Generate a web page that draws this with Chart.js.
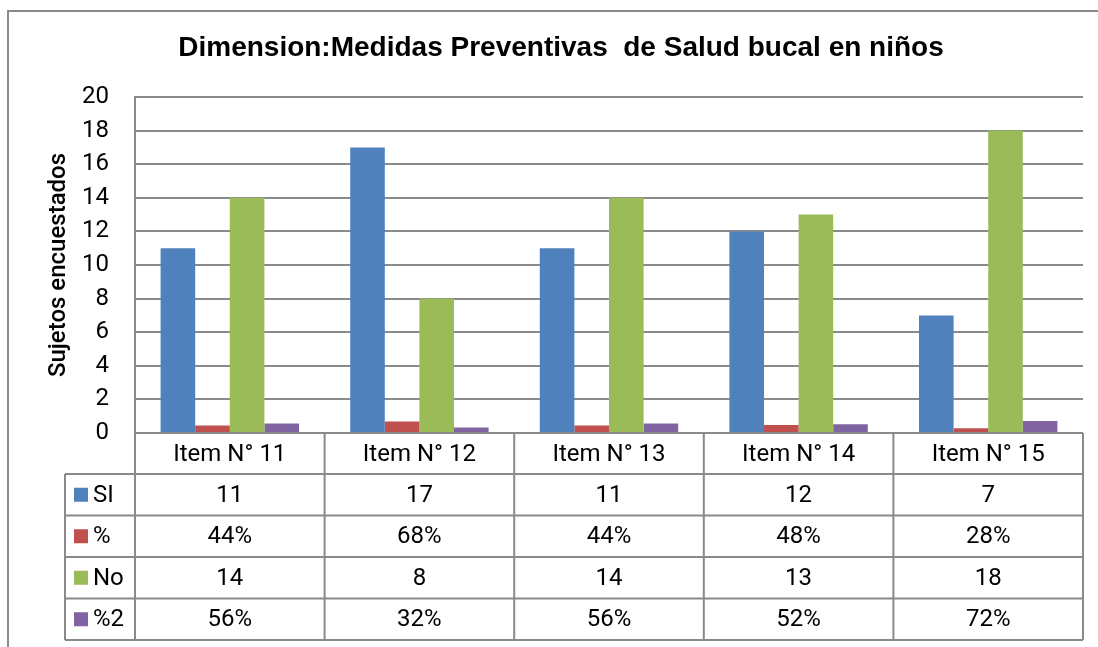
<!DOCTYPE html>
<html>
<head>
<meta charset="utf-8">
<script src="https://cdn.jsdelivr.net/npm/chart.js@4"></script>
<style>
  html, body { margin: 0; padding: 0; background: #fff; }
  #wrap { width: 1098px; height: 647px; position: relative; }
</style>
</head>
<body>
<div id="wrap"><canvas id="grafico"></canvas></div>
<script>
// datos
const items = ['Item N° 11', 'Item N° 12', 'Item N° 13', 'Item N° 14', 'Item N° 15'];
const si = [11, 17, 11, 12, 7];
const pctSi = [0.44, 0.68, 0.44, 0.48, 0.28];
const no = [14, 8, 14, 13, 18];
const pctNo = [0.56, 0.32, 0.56, 0.52, 0.72];
const yTicks = [0, 2, 4, 6, 8, 10, 12, 14, 16, 18, 20];

const colores = ['#4f81bd', '#c0504d', '#9bbb59', '#8064a2'];
const gris = '#8a8a8a';
const fuente = 'Roboto, "Open Sans", sans-serif';

function pct(v) { return Math.round(v * 100) + '%'; }

// tabla de datos debajo del grafico (como en Excel)
const tablaDatos = {
    id: 'tablaDatos',
    afterDraw(chart) {
        const ctx = chart.ctx;
        const area = chart.chartArea;
        const x = chart.scales.x;
        const n = items.length;
        const ancho = (area.right - area.left) / n;
        const filas = [
            { nombre: 'SI', valores: si.map(String) },
            { nombre: '%', valores: pctSi.map(pct) },
            { nombre: 'No', valores: no.map(String) },
            { nombre: '%2', valores: pctNo.map(pct) }
        ];
        const top = area.bottom;
        const altoCab = 41;
        const altoFila = 41.5;
        const izq = 65;
        const fin = top + altoCab + altoFila * filas.length;

        ctx.save();
        ctx.strokeStyle = gris;
        ctx.lineWidth = 2;
        ctx.beginPath();
        // lineas horizontales
        ctx.moveTo(area.left, top); ctx.lineTo(area.right, top);
        for (let r = 0; r <= filas.length; r++) {
            const yy = top + altoCab + r * altoFila;
            ctx.moveTo(izq, yy); ctx.lineTo(area.right, yy);
        }
        // lineas verticales
        ctx.moveTo(izq, top + altoCab); ctx.lineTo(izq, fin);
        for (let c = 0; c <= n; c++) {
            const xx = area.left + c * ancho;
            ctx.moveTo(xx, top); ctx.lineTo(xx, fin);
        }
        ctx.stroke();

        ctx.fillStyle = '#000';
        ctx.font = '24px ' + fuente;
        ctx.textAlign = 'center';
        ctx.textBaseline = 'middle';
        items.forEach((it, i) => {
            ctx.fillText(it, x.getPixelForValue(i), top + altoCab / 2 + 1);
        });
        filas.forEach((f, r) => {
            const yy = top + altoCab + r * altoFila + altoFila / 2 + 1;
            f.valores.forEach((v, i) => {
                ctx.fillText(v, x.getPixelForValue(i), yy);
            });
            ctx.fillStyle = colores[r];
            ctx.fillRect(74, yy - 8, 14, 14);
            ctx.fillStyle = '#000';
            ctx.textAlign = 'left';
            ctx.fillText(f.nombre, 93, yy);
            ctx.textAlign = 'center';
        });
        ctx.restore();
    }
};

// titulo y marco
const marco = {
    id: 'marco',
    afterDraw(chart) {
        const ctx = chart.ctx;
        ctx.save();
        ctx.strokeStyle = gris;
        ctx.lineWidth = 2;
        ctx.beginPath();
        ctx.moveTo(8, 647); ctx.lineTo(8, 11); ctx.lineTo(1098, 11);
        ctx.stroke();
        ctx.fillStyle = '#000';
        ctx.font = 'bold 28px "Liberation Sans", Arial, sans-serif';
        ctx.textAlign = 'center';
        ctx.textBaseline = 'middle';
        ctx.fillText('Dimension:Medidas Preventivas  de Salud bucal en niños', 561, 48);
        ctx.restore();
    }
};

new Chart(document.getElementById('grafico'), {
    type: 'bar',
    data: {
        labels: items,
        datasets: [
            { label: 'SI', data: si, backgroundColor: colores[0] },
            { label: '%', data: pctSi, backgroundColor: colores[1] },
            { label: 'No', data: no, backgroundColor: colores[2] },
            { label: '%2', data: pctNo, backgroundColor: colores[3] }
        ]
    },
    options: {
        responsive: true,
        maintainAspectRatio: false,
        animation: false,
        layout: { padding: { top: 97, right: 15, bottom: 214, left: 0 } },
        datasets: { bar: { categoryPercentage: 0.73, barPercentage: 1 } },
        plugins: {
            legend: { display: false },
            title: { display: false },
            tooltip: { enabled: false }
        },
        scales: {
            x: { display: false },
            y: {
                min: 0,
                max: 20,
                afterBuildTicks(scale) { scale.ticks = yTicks.map(v => ({ value: v })); },
                afterFit(scale) { scale.width = 135; },
                ticks: { color: '#000', padding: 26, font: { family: fuente, size: 24 } },
                grid: { color: gris, lineWidth: 2, drawTicks: false },
                border: { color: gris, width: 2 },
                title: {
                    display: true,
                    text: 'Sujetos encuestados',
                    color: '#000',
                    padding: { top: 45, bottom: 0 },
                    font: { family: fuente, size: 24, weight: '500' }
                }
            }
        }
    },
    plugins: [tablaDatos, marco]
});
</script>
</body>
</html>
